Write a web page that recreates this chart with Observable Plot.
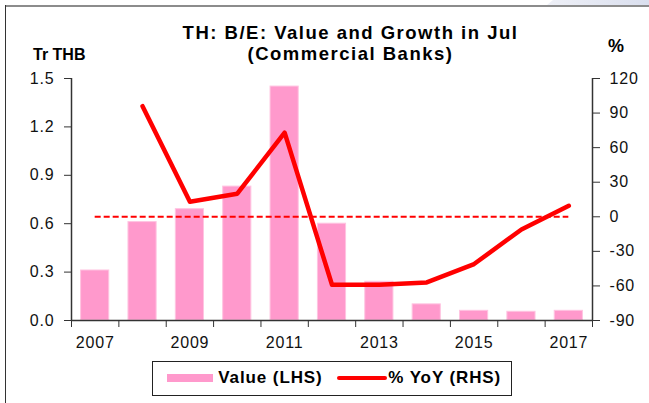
<!DOCTYPE html>
<html>
<head>
<meta charset="utf-8">
<script src="https://cdn.jsdelivr.net/npm/d3@7"></script>
<script src="https://cdn.jsdelivr.net/npm/@observablehq/plot@0.6"></script>
<style>
  html, body { margin: 0; padding: 0; background: #fff; }
  #wrap { position: relative; width: 649px; height: 403px; overflow: hidden; background: #fff;
          font-family: "Liberation Sans", Arial, sans-serif; color: #000; }
  .abs { position: absolute; white-space: nowrap; }
  #chart { position: absolute; left: 0; top: 0; }
  .tline { left: 0; width: 701px; text-align: center; font-size: 18.5px; font-weight: bold; letter-spacing: 1.5px; line-height: 18px; }
</style>
</head>
<body>
<div id="wrap">
  <div class="abs" style="left:547px;top:0;width:102px;height:5px;background:linear-gradient(to right,#eef0f7,#dadfee);clip-path:polygon(6px 0,100% 0,100% 100%,0 100%);"></div>
  <div class="abs" style="left:5px;top:5px;width:644px;height:1.5px;background:#8c8c8c;"></div>
  <div class="abs" style="left:4.5px;top:5px;width:1.5px;height:398px;background:#333;"></div>
  <div id="chart"></div>
  <div class="abs tline" id="title1" style="top:23.5px;"></div>
  <div class="abs tline" id="title2" style="top:44.5px;"></div>
  <div class="abs" id="ylabL" style="left:33px;top:46.6px;font-size:16px;font-weight:bold;line-height:16px;"></div>
  <div class="abs" id="ylabR" style="left:608px;top:36.6px;font-size:18px;font-weight:bold;line-height:18px;"></div>
  <div class="abs" style="left:151.5px;top:360.5px;width:360.5px;height:35px;border:1.5px solid #222;box-sizing:border-box;"></div>
  <div class="abs" style="left:166.7px;top:374.3px;width:46px;height:8px;background:#ff99cc;"></div>
  <div class="abs" id="leg1" style="left:218.3px;top:369px;font-size:17px;font-weight:bold;letter-spacing:0.9px;line-height:17px;"></div>
  <div class="abs" style="left:336.7px;top:376.3px;width:50px;height:4px;background:#ff0000;border-radius:2px;"></div>
  <div class="abs" id="leg2" style="left:388.3px;top:369px;font-size:17px;font-weight:bold;letter-spacing:0.9px;line-height:17px;"></div>
</div>
<script>
// ---- data ----
const years = [2007, 2008, 2009, 2010, 2011, 2012, 2013, 2014, 2015, 2016, 2017];
const values = [0.31, 0.61, 0.69, 0.83, 1.45, 0.60, 0.24, 0.10, 0.06, 0.054, 0.06];
const yoyYears = [2008, 2009, 2010, 2011, 2012, 2013, 2014, 2015, 2016, 2017];
const yoyValues = [96, 13, 20, 73, -59, -59, -57, -41, -11, 9.5];
const leftTicks = [0, 0.3, 0.6, 0.9, 1.2, 1.5];
const rightTicks = [-90, -60, -30, 0, 30, 60, 90, 120];
const xLabelYears = [2007, 2009, 2011, 2013, 2015, 2017];
const titleLines = ["TH: B/E: Value and Growth in Jul", "(Commercial Banks)"];
const leftAxisTitle = "Tr THB";
const rightAxisTitle = "%";
const legendLabels = ["Value (LHS)", "% YoY (RHS)"];

// ---- text ----
document.getElementById("title1").textContent = titleLines[0];
document.getElementById("title2").textContent = titleLines[1];
document.getElementById("ylabL").textContent = leftAxisTitle;
document.getElementById("ylabR").textContent = rightAxisTitle;
document.getElementById("leg1").textContent = legendLabels[0];
document.getElementById("leg2").textContent = legendLabels[1];

// ---- scales ----
const leftDomain = [leftTicks[0], leftTicks[leftTicks.length - 1]];
const rightDomain = [rightTicks[0], rightTicks[rightTicks.length - 1]];
const toLeft = d3.scaleLinear().domain(rightDomain).range(leftDomain);
const xDomain = [years[0] - 0.5, years[years.length - 1] + 0.5];
const boundaries = d3.range(xDomain[0], xDomain[1] + 0.01, 1);

const bars = years.map((year, i) => ({year, value: values[i]}));
const yoy = yoyYears.map((year, i) => ({year, yoy: yoyValues[i]}));

const chart = Plot.plot({
  width: 649,
  height: 403,
  marginTop: 78,
  marginBottom: 83,
  marginLeft: 71,
  marginRight: 57,
  x: {domain: xDomain, axis: null},
  y: {domain: leftDomain, axis: null},
  style: {fontFamily: "'Liberation Sans', Arial, sans-serif", fontSize: "16px", color: "#111", background: "transparent", letterSpacing: "0.8px", overflow: "visible"},
  marks: [
    Plot.rectY(bars, {x1: d => d.year - 0.5, x2: d => d.year + 0.5, y: "value", insetLeft: 9.6, insetRight: 9.6, fill: "#ff99cc", stroke: "#ffc4e1", strokeWidth: 1}),
    Plot.ruleY([toLeft(0)], {x1: years[0], x2: years[years.length - 1], stroke: "#ff0000", strokeWidth: 2, strokeDasharray: "6,3"}),
    Plot.line(yoy, {x: "year", y: d => toLeft(d.yoy), stroke: "#ff0000", strokeWidth: 4.5, strokeLinecap: "round", strokeLinejoin: "round"}),
    Plot.ruleX(xDomain, {stroke: "#333", strokeWidth: 1.5}),
    Plot.ruleY([leftDomain[0]], {stroke: "#333", strokeWidth: 1.5}),
    Plot.axisY(leftTicks, {anchor: "left", label: null, tickSize: 7, tickPadding: 10, stroke: "#333", tickFormat: d3.format(".1f")}),
    Plot.axisY(rightTicks.map(toLeft), {anchor: "right", label: null, tickSize: 7, tickPadding: 10, stroke: "#333", tickFormat: d => String(Math.round(toLeft.invert(d)))}),
    Plot.axisX(xLabelYears, {anchor: "bottom", label: null, tickSize: 0, tickPadding: 16, tickFormat: d => String(d)}),
    Plot.axisX(boundaries, {anchor: "bottom", label: null, tickSize: 7, stroke: "#333", tickFormat: () => ""})
  ]
});
document.getElementById("chart").appendChild(chart);
</script>
</body>
</html>
